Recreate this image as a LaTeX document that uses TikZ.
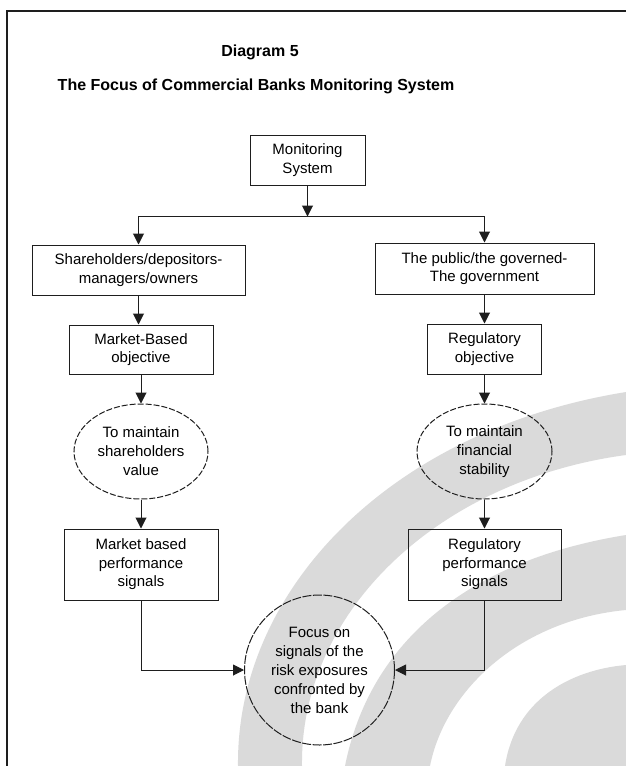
\documentclass[tikz,border=0pt]{standalone}
\usepackage{fontspec}
\setmainfont{Liberation Sans}
\usepackage{tikz}
\usetikzlibrary{shapes.geometric, arrows.meta, positioning}
\definecolor{inkgray}{RGB}{30,30,30}
\definecolor{markgray}{RGB}{218,218,218}

\begin{document}
\begin{tikzpicture}[
    x=1pt, y=-1pt,
    node distance=29pt,
    box/.style={rectangle, draw=inkgray, line width=1pt, inner sep=0pt,
                align=center, font=\fontsize{15}{18.5}\selectfont},
    oval/.style={ellipse, draw=inkgray, line width=1pt, inner sep=0pt,
                 dash pattern=on 6pt off 2pt, align=center,
                 font=\fontsize{15}{19}\selectfont},
    heading/.style={font=\fontsize{16}{18}\selectfont\bfseries},
    arrow/.style={-{Triangle[width=11pt,length=11pt]}, line width=1pt, color=inkgray}
]
\useasboundingbox (0,0) rectangle (626,766);

% watermark behind the chart
\fill[markgray] (238,766) .. controls (236,590) and (390,430) .. (626,392)
    -- (626,455) .. controls (440,480) and (300,610) .. (302,766) -- cycle;
\fill[markgray] (345,766) .. controls (370,640) and (470,560) .. (626,535)
    -- (626,610) .. controls (520,620) and (445,690) .. (430,766) -- cycle;
\fill[markgray] (505,766) .. controls (515,700) and (570,670) .. (626,665)
    -- (626,766) -- cycle;

% frame of the page
\draw[line width=1.6pt, inkgray] (626,11) -- (7,11) -- (7,766);

\node[heading] (diag)  at (260,52) {Diagram 5};
\node[heading] (title) at (256,86) {The Focus of Commercial Banks Monitoring System};

\node[box, minimum width=115pt, minimum height=50pt] (monitor) at (307.5,160) {Monitoring\\System};
\coordinate[below=31pt of monitor] (fork);

% left column
\node[box, minimum width=213pt, minimum height=50pt] (share) at (138.5,270)
     {Shareholders/depositors-\\managers/owners};
\node[box, minimum width=144pt, minimum height=49pt, below=of share, xshift=2.5pt] (mktobj)
     {Market-Based\\objective};
\node[oval, minimum width=134pt, minimum height=95pt, below=of mktobj] (mktval)
     {To maintain\\shareholders\\value};
\node[box, minimum width=154pt, minimum height=71pt, below=of mktval] (mktsig)
     {Market based\\performance\\signals};

% right column
\node[box, minimum width=219pt, minimum height=51pt] (public) at (484.5,268.5)
     {The public/the governed-\\The government};
\node[box, minimum width=114pt, minimum height=50pt, below=of public] (regobj)
     {Regulatory\\objective};
\node[oval, minimum width=135pt, minimum height=95pt, below=of regobj] (regstab)
     {To maintain\\financial\\stability};
\node[box, minimum width=153pt, minimum height=71pt, below=of regstab] (regsig)
     {Regulatory\\performance\\signals};

\node[oval, circle, minimum size=150pt, dash pattern=on 9pt off 1.5pt] (focus) at (319.5,670)
     {Focus on\\signals of the\\risk exposures\\confronted by\\the bank};

\draw[arrow] (monitor) -- (fork);
\draw[arrow] (fork) -| (share);
\draw[arrow] (fork) -| (public);
\draw[arrow] (share) -- (share |- mktobj.north);
\draw[arrow] (mktobj) -- (mktval);
\draw[arrow] (mktval) -- (mktsig);
\draw[arrow] (public) -- (regobj);
\draw[arrow] (regobj) -- (regstab);
\draw[arrow] (regstab) -- (regsig);
\draw[arrow] (mktsig) |- (focus);
\draw[arrow] (regsig) |- (focus);
\end{tikzpicture}
\end{document}
